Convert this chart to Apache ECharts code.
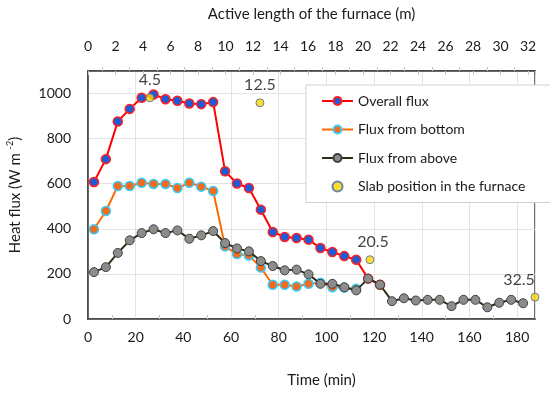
<!DOCTYPE html>
<html><head><meta charset="utf-8">
<script src="https://cdn.jsdelivr.net/npm/echarts@6/dist/echarts.min.js"></script>
<style>html,body{margin:0;padding:0;background:#fff}#c{width:550px;height:394px}</style>
</head><body><div id="c"></div>
<script>
const timeMin = [2.5,7.5,12.5,17.5,22.5,27.5,32.5,37.5,42.5,47.5,52.5,57.5,62.5,67.5,72.5,77.5,82.5,87.5,92.5,97.5,102.5,107.5,112.5,117.5,122.5,127.5,132.5,137.5,142.5,147.5,152.5,157.5,162.5,167.5,172.5,177.5,182.5];
const overallFlux = [608,709,876,932,981,996,975,968,956,953,962,655,601,581,485,386,364,359,352,315,297,279,263,179,152];
const bottomFlux = [398,479,590,590,604,599,599,581,604,587,568,322,288,282,228,152,152,144,156,161,141,139,134];
const aboveFlux = [208,230,293,349,381,398,381,393,356,371,390,337,313,300,257,235,216,219,198,156,156,141,127,179,152,79,92,82,85,85,57,85,85,52,72,85,70];
const slabPos = [4.5,12.5,20.5,32.5];
const slabFlux = [981,959,263,97];

const pair = (vals) => vals.map((v,i)=>[timeMin[i], v]);
const FONT = 'Lato';
const TXT = '#1a1a1a';
const plain = v => String(v);

const chart = echarts.init(document.getElementById('c'));
chart.setOption({
  animation:false,
  textStyle:{fontFamily:FONT},
  grid:{left:88,right:15,top:71,bottom:75,outerBoundsMode:'none',containLabel:false,
    show:true,borderColor:'#404040',borderWidth:1.5,backgroundColor:'transparent'},
  legend:{
    orient:'vertical', left:306, top:85, width:224,
    backgroundColor:'#fff', borderColor:'#d0d0d0', borderWidth:1,
    padding:[9,60,9,15], itemWidth:31, itemHeight:10, itemGap:14.5,
    textStyle:{fontFamily:FONT,fontSize:14,color:TXT},
    data:['Overall flux','Flux from bottom','Flux from above','Slab position in the furnace']
  },
  xAxis:[{
    type:'value', min:0, max:187.5, interval:20, position:'bottom',
    name:'Time (min)', nameLocation:'middle', nameGap:54,
    nameTextStyle:{fontFamily:FONT,fontSize:15,color:TXT,padding:[0,0,0,20]},
    axisLine:{show:true,lineStyle:{color:'#404040',width:1.5}},
    axisTick:{show:false},
    minorTick:{show:true,splitNumber:2,length:-4,lineStyle:{color:'#c8c8c8'}},
    axisLabel:{fontFamily:FONT,fontSize:14,color:TXT,margin:11,showMaxLabel:false,formatter:plain},
    splitLine:{show:true,lineStyle:{color:'#e3e3e3',width:1}}
  },{
    type:'value', min:0, max:32.5, interval:2, position:'top',
    name:'Active length of the furnace (m)', nameLocation:'middle', nameGap:49,
    nameTextStyle:{fontFamily:FONT,fontSize:15,color:TXT},
    axisLine:{show:true,lineStyle:{color:'#404040',width:1.5}},
    axisTick:{show:true,inside:true,length:4,lineStyle:{color:'#c8c8c8'}},
    minorTick:{show:true,splitNumber:2,length:-4,lineStyle:{color:'#c8c8c8'}},
    axisLabel:{fontFamily:FONT,fontSize:14,color:TXT,margin:18,showMaxLabel:false,formatter:plain},
    splitLine:{show:false}
  }],
  yAxis:{
    type:'value', min:0, max:1100, interval:200,
    name:'Heat flux (W m {sup|-2})', nameLocation:'middle', nameGap:64, nameRotate:90,
    nameTextStyle:{fontFamily:FONT,fontSize:15,color:TXT,
      rich:{sup:{fontFamily:FONT,fontSize:9,color:TXT,verticalAlign:'top',lineHeight:18}}},
    axisLine:{show:true,lineStyle:{color:'#404040',width:1.5}},
    axisTick:{show:false},
    axisLabel:{fontFamily:FONT,fontSize:14,color:TXT,margin:17,showMaxLabel:false,formatter:plain},
    splitLine:{show:true,lineStyle:{color:'#e3e3e3',width:1}}
  },
  series:[
    {name:'Overall flux',type:'line',data:pair(overallFlux),symbol:'circle',symbolSize:9,
      lineStyle:{color:'#ff0000',width:2},
      itemStyle:{color:'#1f5bd6',borderColor:'#ff2020',borderWidth:1.5},z:2},
    {name:'Flux from bottom',type:'line',data:pair(bottomFlux),symbol:'circle',symbolSize:9,
      lineStyle:{color:'#ff6a00',width:2},
      itemStyle:{color:'#f26b1d',borderColor:'#33ccff',borderWidth:1.5},z:3},
    {name:'Flux from above',type:'line',data:pair(aboveFlux),symbol:'circle',symbolSize:9,
      lineStyle:{color:'#2e2e14',width:2},
      itemStyle:{color:'#8c8c8c',borderColor:'#404040',borderWidth:1},z:4},
    {name:'Slab position in the furnace',type:'scatter',xAxisIndex:1,clip:false,
      data:slabPos.map((p,i)=>({value:[p,slabFlux[i]],
        label:{show:true,position:'top',distance:5,formatter:String(p),
          offset: i===3?[-16,0]:(i===2?[3,0]:[0,0]),
          fontFamily:FONT,fontSize:16,color:'#111'}})),
      symbol:'circle',symbolSize:8,
      itemStyle:{color:'#ffd200',borderColor:'#3d6fa0',borderWidth:1},z:5}
  ]
});
</script></body></html>
